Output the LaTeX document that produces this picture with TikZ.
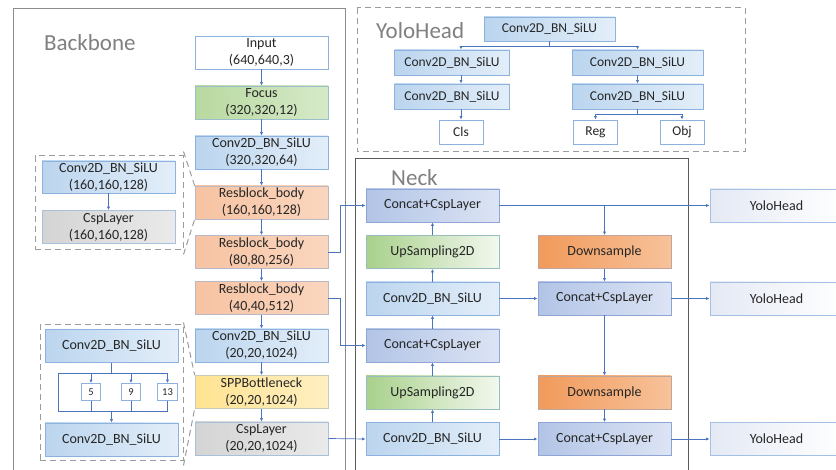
\documentclass[tikz,border=0pt]{standalone}
\usepackage{fontspec}
\setmainfont{Carlito}
\usetikzlibrary{arrows.meta}

\definecolor{txt}{HTML}{262626}
\definecolor{lab}{HTML}{808080}
\definecolor{ln}{HTML}{4A74BE}
\definecolor{bdblue}{HTML}{8DB2DF}
\definecolor{bdcat}{HTML}{8EA5D5}
\definecolor{cvL}{HTML}{BBD5EE}
\definecolor{cvR}{HTML}{E3EEF9}
\definecolor{ctL}{HTML}{B2C4E6}
\definecolor{ctR}{HTML}{DCE4F4}
\definecolor{grL}{HTML}{B8D9A0}
\definecolor{grR}{HTML}{D6E9C8}
\definecolor{upL}{HTML}{A8D08B}
\definecolor{upR}{HTML}{F2F8EE}
\definecolor{orL}{HTML}{F7C3A2}
\definecolor{orR}{HTML}{FAD6BF}
\definecolor{yeL}{HTML}{FFE391}
\definecolor{yeR}{HTML}{FFEFC2}
\definecolor{gyL}{HTML}{D4D4D4}
\definecolor{gyR}{HTML}{EAEAEA}
\definecolor{dnL}{HTML}{F19A5B}
\definecolor{dnR}{HTML}{F7C29A}
\definecolor{yhL}{HTML}{E4E9F4}
\definecolor{yhR}{HTML}{FFFFFF}
\definecolor{frame}{HTML}{8C8C8C}
\definecolor{framedk}{HTML}{5A5A5A}
\definecolor{dashc}{HTML}{9C9C9C}

\begin{document}
\begin{tikzpicture}[x=1pt,y=-1pt,
  every node/.style={inner sep=0pt,text=txt},
  base/.style={minimum width=133pt,minimum height=33pt,align=center,
    font=\fontsize{14}{17}\selectfont,line width=0.7pt},
  conv/.style={base,draw=bdblue,left color=cvL,right color=cvR},
  concat/.style={base,draw=bdcat,left color=ctL,right color=ctR},
  plain/.style={base,draw=bdblue,fill=white},
  focusbox/.style={base,draw=bdblue!70!grL,left color=grL,right color=grR},
  upbox/.style={base,draw=bdblue!60!upL,left color=upL,right color=upR},
  resbox/.style={base,draw=bdblue!60!orL,left color=orL,right color=orR},
  sppbox/.style={base,draw=bdblue!50!yeL,left color=yeL,right color=yeR},
  cspbox/.style={base,draw=bdblue!60!gyL,left color=gyL,right color=gyR},
  downbox/.style={base,draw=bdblue!50!dnL,left color=dnL,right color=dnR},
  headbox/.style={base,draw=bdblue!80!white,left color=yhL,right color=yhR},
  small/.style={draw=bdblue,fill=white,line width=0.7pt,minimum width=19pt,
    minimum height=17pt,font=\fontsize{10.5}{12}\selectfont},
  hconv/.style={conv,minimum height=25pt,font=\fontsize{13.5}{15}\selectfont},
  hout/.style={plain,minimum width=44pt,minimum height=24pt,font=\fontsize{13.5}{15}\selectfont},
  grp/.style={draw=dashc,line width=1pt,dash pattern=on 6pt off 4pt},
  title/.style={text=lab,font=\fontsize{23}{25}\selectfont,anchor=west},
  link/.style={draw=ln,line width=0.7pt},
  arr/.style={link,-{Latex[length=3.6pt,width=3.2pt]}}]

\clip (0,0) rectangle (836,470);
\fill[white] (0,0) rectangle (836,470);

% frames of the three parts
\draw[frame,line width=0.8pt] (13,8) rectangle (345,490);
\node[title] (tb) at (44,43) {Backbone};
\draw[framedk,line width=0.8pt] (355,158) rectangle (688,490);
\node[title] (tn) at (391,178) {Neck};
\draw[grp] (357,8) rectangle (745,152);
\node[title] (th) at (376,31) {YoloHead};

% backbone column
\node[plain]   (in)  at (261.5,52.5)  {Input\\(640,640,3)};
\node[focusbox](foc) at (261.5,102.5) {Focus\\(320,320,12)};
\node[conv]    (cv1) at (261.5,152.5) {Conv2D\_BN\_SiLU\\(320,320,64)};
\node[resbox]  (rb1) at (261.5,202.5) {Resblock\_body\\(160,160,128)};
\node[resbox]  (rb2) at (261.5,252)   {Resblock\_body\\(80,80,256)};
\node[resbox]  (rb3) at (261.5,298)   {Resblock\_body\\(40,40,512)};
\node[conv]    (cv2) at (261.5,345.5) {Conv2D\_BN\_SiLU\\(20,20,1024)};
\node[sppbox]  (spp) at (261.5,392)   {SPPBottleneck\\(20,20,1024)};
\node[cspbox]  (csp) at (261.5,438.5) {CspLayer\\(20,20,1024)};
\foreach \a/\b in {in/foc,foc/cv1,cv1/rb1,rb1/rb2,rb2/rb3,rb3/cv2,cv2/spp,spp/csp}
  \draw[arr] (\a) -- (\b);

% detail of Resblock_body
\node[grp,minimum width=148pt,minimum height=94pt] (G1) at (109,203) {};
\node[conv,minimum height=32pt] (g1a) at (108.5,177) {Conv2D\_BN\_SiLU\\(160,160,128)};
\node[cspbox] (g1b) at (108.5,227) {CspLayer\\(160,160,128)};
\draw[arr] (g1a) -- (g1b);
\draw[grp] ([yshift=4pt]G1.north east) -- (rb1.north west);
\draw[grp] ([yshift=-4pt]G1.south east) -- (rb1.south west);

% detail of SPPBottleneck
\node[grp,minimum width=143pt,minimum height=135pt] (G2) at (111.5,392.5) {};
\node[conv] (s1) at (111.5,346)   {Conv2D\_BN\_SiLU};
\node[conv] (s2) at (111.5,439.5) {Conv2D\_BN\_SiLU};
\node[small] (k5)  at (91,392)  {5};
\node[small] (k9)  at (131,392) {9};
\node[small,minimum width=20pt] (k13) at (167.5,392) {13};
\coordinate (st) at (111.5,373);
\coordinate (sl) at (58,373);
\coordinate (sr) at (167.5,373);
\coordinate (bl) at (58,411);
\coordinate (br) at (167.5,411);
\coordinate (bc) at (111.5,411);
\draw[link] (s1.south) -- (st);
\draw[link] (sl) -- (sr);
\draw[link] (sl) -- (bl) -- (br);
\draw[arr] (sl -| k5) -- (k5.north);
\draw[arr] (sl -| k9) -- (k9.north);
\draw[arr] (sr) -- (k13.north);
\draw[link] (k5.south) -- (k5.south |- bl);
\draw[link] (k9.south) -- (k9.south |- bl);
\draw[link] (k13.south) -- (br);
\draw[arr] (bc) -- (s2.north);
\draw[grp] ([yshift=2pt]G2.north east) -- (spp.north west);
\draw[grp] ([yshift=-5pt]G2.south east) -- (spp.south west);

% neck
\node[concat] (n1) at (432.5,205.5) {Concat+CspLayer};
\node[upbox]  (u2) at (432.5,252)   {UpSampling2D};
\node[conv]   (n3) at (432.5,298.5) {Conv2D\_BN\_SiLU};
\node[concat] (n4) at (432.5,345.5) {Concat+CspLayer};
\node[upbox]  (u5) at (432.5,392.5) {UpSampling2D};
\node[conv]   (n6) at (432.5,439)   {Conv2D\_BN\_SiLU};
\node[downbox](d2) at (604.5,252)   {Downsample};
\node[concat] (m3) at (604.5,298.5) {Concat+CspLayer};
\node[downbox](d5) at (604.5,392.5) {Downsample};
\node[concat] (m6) at (604.5,439)   {Concat+CspLayer};

\node[headbox] (y1) at (776.5,205.5) {YoloHead};
\node[headbox] (y2) at (776.5,298.5) {YoloHead};
\node[headbox] (y3) at (776.5,439)   {YoloHead};

\draw[arr] (rb2.east) -- ++(12,0) |- (n1.west);
\draw[arr] (rb3.east) -- ++(12,0) |- (n4.west);
\draw[arr] (csp.east) -- (n6.west);
\foreach \a/\b in {n6/u5,u5/n4,n4/n3,n3/u2,u2/n1,d2/m3,m3/d5,d5/m6}
  \draw[arr] (\a) -- (\b);
\draw[arr] (n3) -- (m3);
\draw[arr] (n6) -- (m6);
\draw[arr] (n1.east) -- (y1.west);
\draw[arr] (d2.north |- n1.east) -- (d2.north);
\draw[arr] (m3.east) -- (y2.west);
\draw[arr] (m6.east) -- (y3.west);

% YoloHead detail
\node[hconv,minimum width=131pt,minimum height=24pt] (h0) at (549.5,29) {Conv2D\_BN\_SiLU};
\node[hconv,minimum width=115pt] (h1) at (452,62.5) {Conv2D\_BN\_SiLU};
\node[hconv,minimum width=115pt] (h2) at (452,96.5) {Conv2D\_BN\_SiLU};
\node[hconv,minimum width=131pt] (h3) at (637.5,62.5) {Conv2D\_BN\_SiLU};
\node[hconv,minimum width=131pt] (h4) at (637.5,96.5) {Conv2D\_BN\_SiLU};
\node[hout] (cls) at (461,132) {Cls};
\node[hout] (reg) at (595.5,132) {Reg};
\node[hout] (obj) at (682,132) {Obj};
\coordinate (hs) at (549.5,46);
\coordinate (hs2) at (637.5,114);
\draw[link] (h0.south) -- (hs);
\draw[arr] (hs) -| (h1.north -| cls.north);
\draw[arr] (hs) -| (h3.north);
\draw[arr] (h1.south -| cls.north) -- (h2.north -| cls.north);
\draw[arr] (h2.south -| cls.north) -- (cls.north);
\draw[arr] (h3) -- (h4);
\draw[link] (h4.south) -- (hs2);
\draw[arr] (hs2) -| (reg.north);
\draw[arr] (hs2) -| (obj.north);
\end{tikzpicture}
\end{document}
